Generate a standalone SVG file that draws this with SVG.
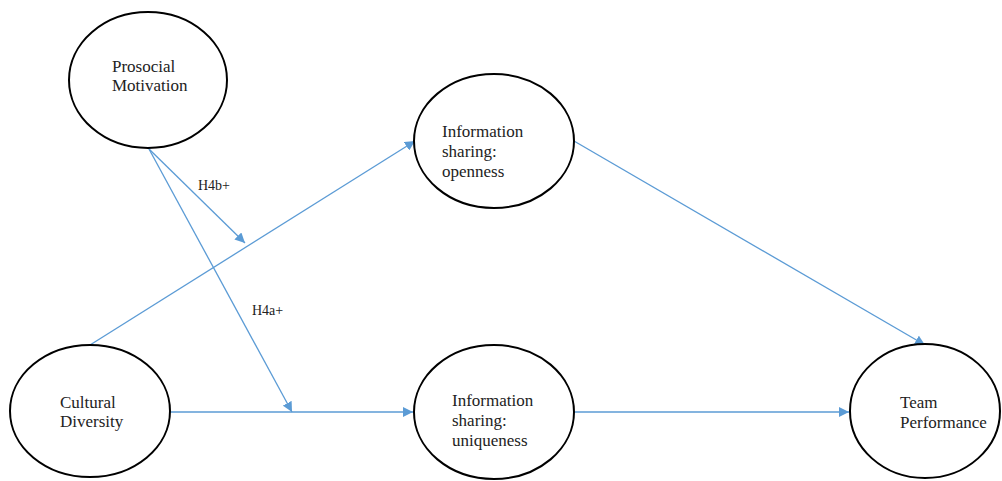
<svg xmlns="http://www.w3.org/2000/svg" width="1002" height="481" viewBox="0 0 1002 481">
<style>
.node{fill:#fff;stroke:#000;stroke-width:2}
.t{font-family:"Liberation Serif","Times New Roman",serif;font-size:17px;fill:#222}
.lab{font-family:"Liberation Serif","Times New Roman",serif;font-size:14px;fill:#222}
.c{stroke:#5B9BD5;stroke-width:1.3;fill:none;marker-end:url(#ah)}
</style>
<defs>
<marker id="ah" viewBox="0 0 10 10" refX="10" refY="5" markerWidth="10" markerHeight="10" markerUnits="userSpaceOnUse" orient="auto">
<path d="M0,0 L10,5 L0,10 z" fill="#5B9BD5"/>
</marker>
</defs>
<rect width="1002" height="481" fill="#fff"/>
<g id="connectors">
<line class="c" x1="90" y1="345" x2="415" y2="141"/>
<line class="c" x1="170" y1="412" x2="413" y2="412"/>
<line class="c" x1="574" y1="412" x2="849" y2="412"/>
<line class="c" x1="574" y1="141" x2="925" y2="345"/>
<line class="c" x1="149" y1="149" x2="245" y2="243"/>
<line class="c" x1="149" y1="149" x2="292" y2="412"/>
<text class="lab" x="198" y="190">H4b+</text>
<text class="lab" x="252" y="315">H4a+</text>
</g>
<g id="prosocial">
<ellipse class="node" cx="148" cy="80" rx="79" ry="68"/>
<text class="t" x="112" y="72">Prosocial</text>
<text class="t" x="112" y="91">Motivation</text>
</g>
<g id="openness">
<ellipse class="node" cx="494" cy="141" rx="80" ry="67"/>
<text class="t" x="442" y="137">Information</text>
<text class="t" x="442" y="157">sharing:</text>
<text class="t" x="442" y="177">openness</text>
</g>
<g id="cultural">
<ellipse class="node" cx="90" cy="411" rx="80" ry="66"/>
<text class="t" x="60" y="408">Cultural</text>
<text class="t" x="60" y="427">Diversity</text>
</g>
<g id="uniqueness">
<ellipse class="node" cx="494" cy="412" rx="80" ry="67"/>
<text class="t" x="452" y="406">Information</text>
<text class="t" x="452" y="426">sharing:</text>
<text class="t" x="452" y="446">uniqueness</text>
</g>
<g id="team">
<ellipse class="node" cx="925" cy="411" rx="75" ry="67"/>
<text class="t" x="900" y="408">Team</text>
<text class="t" x="900" y="428">Performance</text>
</g>
</svg>
